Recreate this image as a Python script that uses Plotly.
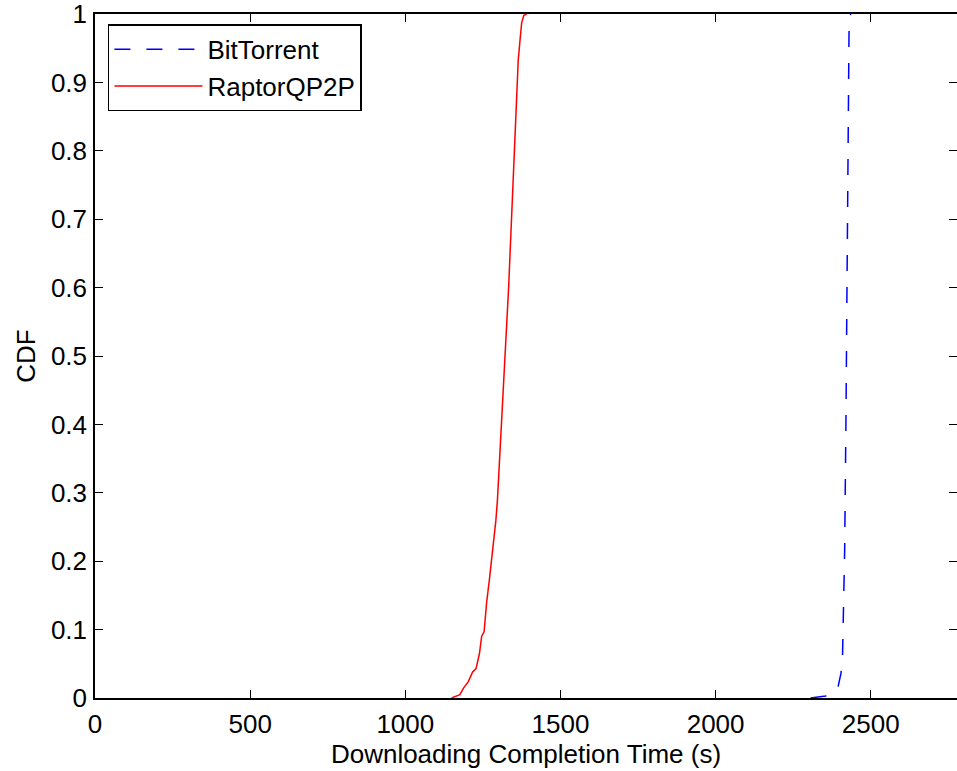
import plotly.graph_objects as go

# Empirical CDF samples: completion time (s) and cumulative fraction
bt_time = [2306, 2355, 2390, 2395, 2404, 2409, 2411, 2414, 2416, 2420, 2423,
           2424.5, 2426.5, 2427.5, 2430, 2435]
bt_cdf = [0.0, 0.003, 0.010, 0.017, 0.036, 0.060, 0.104, 0.153, 0.217, 0.40,
          0.60, 0.733, 0.812, 0.924, 0.973, 1.0]

rq_time = [1149, 1160, 1176, 1187, 1203, 1217, 1228, 1239, 1246, 1254, 1262,
           1271, 1278, 1286, 1292, 1297, 1310, 1322, 1333, 1345, 1353, 1361,
           1364, 1370, 1375, 1382, 1391]
rq_cdf = [0.0, 0.002, 0.005, 0.014, 0.024, 0.038, 0.043, 0.065, 0.090, 0.097,
          0.139, 0.173, 0.202, 0.226, 0.260, 0.290, 0.40, 0.50, 0.60, 0.729,
          0.826, 0.904, 0.933, 0.963, 0.987, 0.998, 1.0]

x_ticks = [0, 500, 1000, 1500, 2000, 2500]
y_ticks = [0, 0.1, 0.2, 0.3, 0.4, 0.5, 0.6, 0.7, 0.8, 0.9, 1]

FONT = "Liberation Sans, Arial, Helvetica, sans-serif"

fig = go.Figure()
fig.add_trace(go.Scatter(
    x=bt_time, y=bt_cdf, mode="lines", name="BitTorrent",
    line=dict(color="#0000ff", width=1.5, dash="16px,16px"),
))
# second trace sits on the right-hand y axis (same 0..1 scale) so that
# axis can carry the inward ticks along the right edge
fig.add_trace(go.Scatter(
    x=rq_time, y=rq_cdf, mode="lines", name="RaptorQP2P", yaxis="y2",
    line=dict(color="#ff0000", width=1.5),
))

axis_common = dict(
    showgrid=False, zeroline=False, linecolor="black",
    linewidth=1.5, ticks="inside", ticklen=8, tickwidth=1.2, tickcolor="black",
    tickfont=dict(family=FONT, size=26, color="black"),
    ticklabeloverflow="allow",
)

fig.update_layout(
    width=957, height=771,
    margin=dict(l=95, r=0, t=14, b=73),
    paper_bgcolor="white", plot_bgcolor="white",
    font=dict(family=FONT, size=26, color="black"),
    xaxis=dict(
        range=[0, 2778], tickvals=x_ticks, mirror="ticks", showline=True,
        title=dict(text="Downloading Completion Time (s)", standoff=1,
                   font=dict(family=FONT, size=26)),
        ticklabelstandoff=2,
        **axis_common,
    ),
    yaxis=dict(
        range=[0, 1], tickvals=y_ticks, mirror=False, showline=True,
        title=dict(text="CDF", standoff=8, font=dict(family=FONT, size=26)),
        ticklabelstandoff=1,
        **axis_common,
    ),
    yaxis2=dict(
        range=[0, 1], tickvals=y_ticks, overlaying="y", side="right",
        showline=False, showticklabels=False,
        **axis_common,
    ),
    legend=dict(
        x=0.015, y=0.985, xanchor="left", yanchor="top",
        bgcolor="white", bordercolor="black", borderwidth=1.5,
        font=dict(family=FONT, size=26, color="black"),
        itemwidth=88, traceorder="normal",
    ),
    showlegend=True,
)

fig.write_html("out.html")
